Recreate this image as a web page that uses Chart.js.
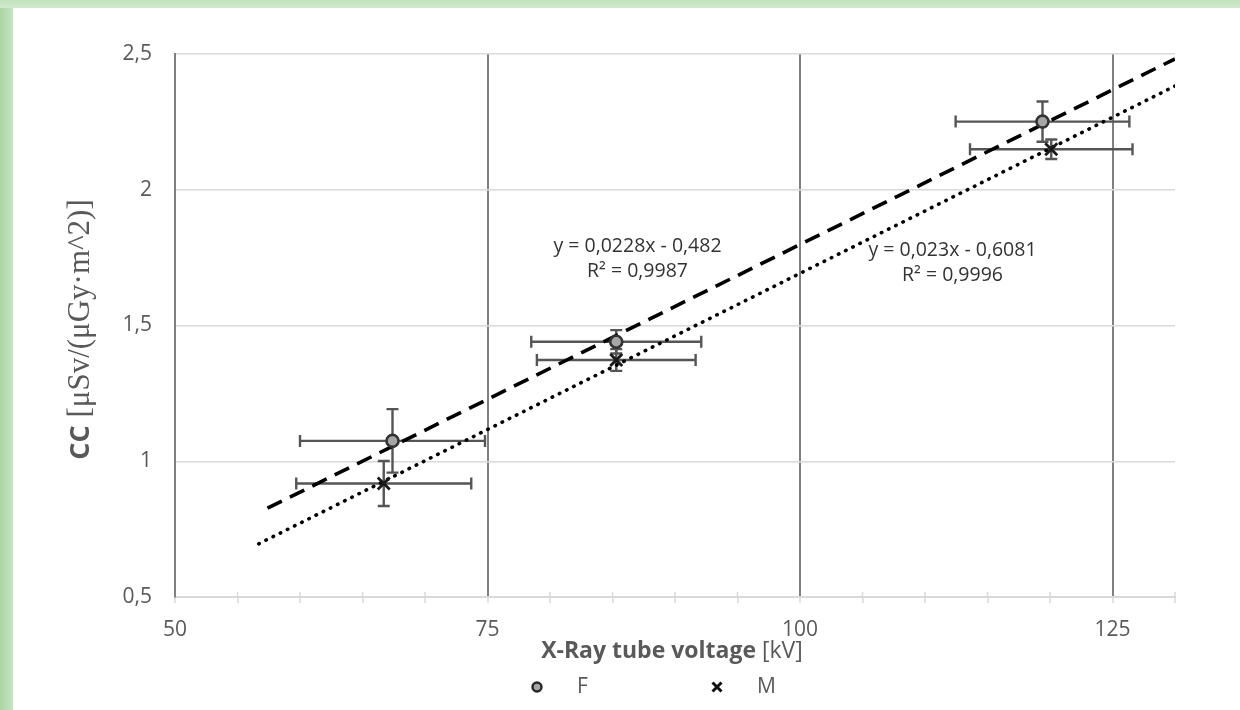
<!DOCTYPE html>
<html><head><meta charset="utf-8">
<script src="https://cdn.jsdelivr.net/npm/chart.js@4.4.1/dist/chart.umd.min.js"></script>
<style>
html,body{margin:0;padding:0;width:1240px;height:710px;overflow:hidden;}
body{background:linear-gradient(to right,#a9d5a2 0px,#c6e4c2 13px,#cfe8cc 100%);}
#top{position:absolute;left:0;top:0;width:1240px;height:8px;background:linear-gradient(to bottom,#c2e1be,#d0e9cd);}
#box{position:absolute;left:13px;top:8px;width:1227px;height:702px;background:#fff;}
canvas{display:block;}
</style></head>
<body><div id="top"></div><div id="box"><canvas id="c" width="1227" height="702"></canvas></div>
<script>
// ---- data ----
const kvF = [67.4, 85.3, 119.4];
const ccF = [1.075, 1.44, 2.251];
const kvErrF = [7.4, 6.8, 6.95];
const ccErrF = [0.117, 0.043, 0.074];
const kvM = [66.7, 85.3, 120.1];
const ccM = [0.918, 1.373, 2.149];
const kvErrM = [7.0, 6.35, 6.5];
const ccErrM = [0.083, 0.04, 0.036];
const trendKvF = [57.4, 130];
const trendCcF = [0.827, 2.482];
const trendKvM = [56.7, 130];
const trendCcM = [0.696, 2.382];
const seriesNames = ['F', 'M'];
const eqLabels = ['y = 0,0228x - 0,482', 'y = 0,023x - 0,6081'];
const r2Labels = ['R\u00B2 = 0,9987', 'R\u00B2 = 0,9996'];
const xTickValues = [50, 75, 100, 125];
const yTickLabels = ['0,5', '1', '1,5', '2', '2,5'];
const xTitleBold = 'X-Ray tube voltage';
const xTitleRest = ' [kV]';
const yTitleBold = 'CC';
const yTitleRest = ' [\u03BCSv/(\u03BCGy\u00B7m^2)]';

const toXY = (xs, ys) => xs.map((v, i) => ({x: v, y: ys[i]}));

const TEXT = '#595959';
const SANS = '"Open Sans", sans-serif';

const errorBars = {
  id: 'errorBars',
  beforeDatasetsDraw(chart) {
    const {ctx, scales: {x, y}} = chart;
    ctx.save();
    ctx.strokeStyle = '#d9d9d9'; ctx.lineWidth = 1.5;
    const ab = chart.chartArea.bottom;
    x.ticks.forEach(t => {
      if (t.value % 25 !== 0) {
        const px = x.getPixelForValue(t.value);
        ctx.beginPath(); ctx.moveTo(px, ab - 5); ctx.lineTo(px, ab); ctx.stroke();
      }
    });
    ctx.strokeStyle = '#555555'; ctx.lineWidth = 2.4; ctx.lineCap = 'butt';
    const sets = [[kvF, ccF, kvErrF, ccErrF], [kvM, ccM, kvErrM, ccErrM]];
    const cap = 6;
    sets.forEach(([xs, ys, ex, ey]) => {
      xs.forEach((xv, i) => {
        const px = x.getPixelForValue(xv), py = y.getPixelForValue(ys[i]);
        const x1 = x.getPixelForValue(xv - ex[i]), x2 = x.getPixelForValue(xv + ex[i]);
        const y1 = y.getPixelForValue(ys[i] + ey[i]), y2 = y.getPixelForValue(ys[i] - ey[i]);
        ctx.beginPath();
        ctx.moveTo(x1, py); ctx.lineTo(x2, py);
        ctx.moveTo(x1, py - cap); ctx.lineTo(x1, py + cap);
        ctx.moveTo(x2, py - cap); ctx.lineTo(x2, py + cap);
        ctx.moveTo(px, y1); ctx.lineTo(px, y2);
        ctx.moveTo(px - cap, y1); ctx.lineTo(px + cap, y1);
        ctx.moveTo(px - cap, y2); ctx.lineTo(px + cap, y2);
        ctx.stroke();
      });
    });
    ctx.restore();
  }
};

const textsPlugin = {
  id: 'texts',
  afterDraw(chart) {
    const {ctx, chartArea: ca, scales: {x, y}} = chart;
    ctx.save();
    ctx.fillStyle = '#333333';
    ctx.font = '19.5px ' + SANS;
    ctx.textAlign = 'center'; ctx.textBaseline = 'middle';
    const anchors = [[87.0, 1.79], [112.2, 1.778]];
    anchors.forEach((a, i) => {
      const px = x.getPixelForValue(a[0]), py = y.getPixelForValue(a[1]);
      ctx.fillText(eqLabels[i], px, py);
      ctx.fillText(r2Labels[i], px, py + 25);
    });
    ctx.fillStyle = TEXT;
    ctx.textAlign = 'left';
    const bFont = 'bold 23px ' + SANS, rFont = '23px ' + SANS;
    ctx.font = bFont; const wb = ctx.measureText(xTitleBold).width;
    ctx.font = rFont; const wr = ctx.measureText(xTitleRest).width;
    const cx = ca.left + 497, cy = ca.bottom + 54;
    let sx = cx - (wb + wr) / 2;
    ctx.font = bFont; ctx.fillText(xTitleBold, sx, cy);
    ctx.font = rFont; ctx.fillText(xTitleRest, sx + wb, cy);
    ctx.save();
    ctx.translate(ca.left - 94, (ca.top + ca.bottom) / 2 + 4);
    ctx.rotate(-Math.PI / 2);
    const yb = 'bold 27px ' + SANS, yr = '31px "Liberation Serif", serif';
    ctx.font = yb; const w1 = ctx.measureText(yTitleBold).width;
    ctx.font = yr; const w2 = ctx.measureText(yTitleRest).width;
    let s2 = -(w1 + w2) / 2;
    ctx.font = yb; ctx.fillText(yTitleBold, s2, 0);
    ctx.font = yr; ctx.fillText(yTitleRest, s2 + w1, 0);
    ctx.restore();
    const ly = ca.bottom + 90;
    const lx = [ca.left + 362, ca.left + 542];
    ctx.beginPath(); ctx.arc(lx[0], ly, 4.5, 0, Math.PI * 2);
    ctx.fillStyle = '#a6a6a6'; ctx.fill();
    ctx.lineWidth = 2.4; ctx.strokeStyle = '#262626'; ctx.stroke();
    ctx.beginPath();
    const r = 4.5;
    ctx.moveTo(lx[1] - r, ly - r); ctx.lineTo(lx[1] + r, ly + r);
    ctx.moveTo(lx[1] + r, ly - r); ctx.lineTo(lx[1] - r, ly + r);
    ctx.lineWidth = 3; ctx.strokeStyle = '#111'; ctx.stroke();
    ctx.fillStyle = TEXT; ctx.font = '21px ' + SANS; ctx.textAlign = 'left';
    ctx.fillText(seriesNames[0], lx[0] + 40, ly);
    ctx.fillText(seriesNames[1], lx[1] + 40, ly);
    ctx.restore();
  }
};

new Chart(document.getElementById('c'), {
  type: 'scatter',
  data: {
    datasets: [
      { label: seriesNames[0], data: toXY(kvF, ccF), pointStyle: 'circle', pointRadius: 6,
        backgroundColor: '#a6a6a6', borderColor: '#333333', pointBorderWidth: 2.6, order: 1 },
      { label: seriesNames[1], data: toXY(kvM, ccM), pointStyle: 'crossRot', pointRadius: 8.5,
        borderColor: '#1a1a1a', backgroundColor: '#1a1a1a', pointBorderWidth: 2.8, order: 1 },
      { label: 'trendF', data: toXY(trendKvF, trendCcF), showLine: true, pointRadius: 0,
        borderColor: '#000', borderWidth: 3.6, borderDash: [16, 9], fill: false, order: 3 },
      { label: 'trendM', data: toXY(trendKvM, trendCcM), showLine: true, pointRadius: 0,
        borderColor: '#000', borderWidth: 3.6, borderDash: [0.5, 7.5], borderCapStyle: 'round', fill: false, order: 3 }
    ]
  },
  options: {
    responsive: false,
    animation: false,
    events: [],
    layout: { padding: { left: 102, right: 65, top: 46, bottom: 73 } },
    plugins: { legend: { display: false }, tooltip: { enabled: false } },
    scales: {
      x: {
        type: 'linear', min: 50, max: 130,
        afterFit: s => { s.height = 40; },
        ticks: { stepSize: 5, autoSkip: false, maxRotation: 0, padding: 14,
          color: TEXT, font: { family: SANS, size: 21 },
          callback: v => xTickValues.includes(v) ? String(v) : '' },
        grid: { color: c => (c.tick && c.tick.value % 25 === 0) ? '#808080' : 'rgba(0,0,0,0)',
          lineWidth: 2, drawTicks: true, tickLength: 6, tickColor: '#d9d9d9', tickWidth: 1.5 },
        border: { color: '#d9d9d9', width: 2 }
      },
      y: {
        type: 'linear', min: 0.5, max: 2.5,
        afterFit: s => { s.width = 60; },
        ticks: { stepSize: 0.5, padding: 23, color: TEXT, font: { family: SANS, size: 21 },
          callback: (v, i) => yTickLabels[i] },
        grid: { color: '#d9d9d9', lineWidth: 1.5, drawTicks: false },
        border: { color: '#808080', width: 2 }
      }
    }
  },
  plugins: [errorBars, textsPlugin]
});
</script></body></html>
